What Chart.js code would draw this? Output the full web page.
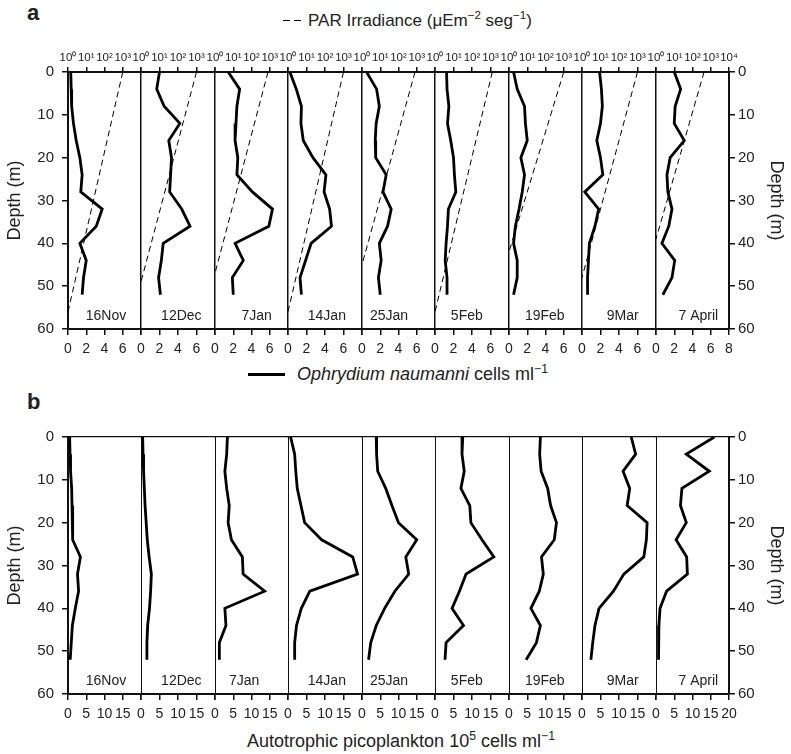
<!DOCTYPE html>
<html>
<head>
<meta charset="utf-8">
<script src="https://cdn.jsdelivr.net/npm/chart.js@4.4.0/dist/chart.umd.min.js"></script>
<style>
  body { margin: 0; background: #fff; font-family: "Liberation Sans", Arial, sans-serif; color: #222; }
  #wrap { position: relative; width: 791px; height: 754px; overflow: hidden; }
  #wrap canvas { position: absolute; }
  .lbl { position: absolute; white-space: nowrap; line-height: 1; }
  .lbl sup { font-size: 0.68em; vertical-align: 0; position: relative; top: -0.6em; }
  .dash { position: absolute; height: 1px; background: #000; }
</style>
</head>
<body>
<div id="wrap">
  <div class="lbl" style="left:27px; top:2px; font-size:22px; font-weight:bold;">a</div>
  <div class="dash" style="left:283px; top:20px; width:7px;"></div>
  <div class="dash" style="left:294px; top:20px; width:7px;"></div>
  <div class="lbl" style="left:308px; top:12px; font-size:17px;">PAR Irradiance (μEm<sup>−2</sup> seg<sup>−1</sup>)</div>

  <div class="dash" style="left:248px; top:373px; width:37px; height:3px;"></div>
  <div class="lbl" style="left:297px; top:365px; font-size:18px;"><i>Ophrydium naumanni</i> cells ml<sup>−1</sup></div>

  <div class="lbl" style="left:27px; top:391px; font-size:22px; font-weight:bold;">b</div>
  <div class="lbl" style="left:247px; top:732px; font-size:18px;">Autotrophic picoplankton 10<sup>5</sup> cells ml<sup>−1</sup></div>
</div>
<script>
// sampling depths (m)
const depths = [0, 4, 8, 12, 16, 20, 24, 28, 32, 36, 40, 44, 48, 52];
const dates = ["16Nov", "12Dec", "7Jan", "14Jan", "25Jan", "5Feb", "19Feb", "9Mar", "7 April"];

// Ophrydium naumanni, cells ml-1
const oph16Nov = [0.3, 0.35, 0.4, 0.6, 0.9, 1.3, 1.55, 1.4, 3.75, 3.1, 1.3, 2.0, 1.7, 1.55];
const oph12Dec = [2.0, 1.7, 2.5, 4.2, 3.0, 3.3, 3.2, 3.1, 4.4, 5.3, 2.4, 2.2, 1.9, 2.1];
const oph7Jan  = [1.45, 2.7, 2.4, 2.3, 2.2, 2.5, 2.4, 4.1, 6.3, 5.9, 2.2, 3.1, 1.9, 2.0];
const oph14Jan = [0.2, 0.9, 1.45, 1.4, 1.65, 2.7, 4.1, 3.9, 4.5, 4.7, 2.5, 1.9, 1.3, 1.45];
const oph25Jan = [0.5, 1.6, 1.9, 1.55, 1.45, 1.5, 2.65, 2.3, 3.2, 2.8, 1.9, 2.1, 1.8, 2.0];
const oph5Feb  = [1.25, 1.3, 1.5, 1.35, 1.7, 2.0, 2.1, 2.25, 1.45, 1.35, 1.2, 1.1, 1.3, 1.3];
const oph19Feb = [0.5, 0.9, 1.7, 1.8, 2.0, 1.3, 1.7, 1.45, 1.1, 0.7, 0.5, 0.9, 0.9, 0.5];
const oph9Mar  = [1.9, 2.1, 2.2, 2.0, 1.6, 2.0, 2.25, 0.3, 1.8, 1.4, 0.8, 0.7, 0.6, 0.6];
const oph7Apr  = [2.0, 2.7, 2.1, 2.0, 3.1, 1.55, 1.2, 1.3, 1.75, 1.4, 0.65, 2.05, 1.75, 0.75];
const ophSeries = [oph16Nov, oph12Dec, oph7Jan, oph14Jan, oph25Jan, oph5Feb, oph19Feb, oph9Mar, oph7Apr];

// PAR irradiance: surface value and depth where it falls to 1 uE m-2 s-1
const parSurface = [1000, 1000, 800, 1000, 800, 1250, 1000, 1000, 430];
const parDepthAt1 = [56, 49, 47, 56, 45, 56, 42, 48, 39];

// autotrophic picoplankton, 10^5 cells ml-1
const pico16Nov = [0.45, 0.55, 0.7, 1.0, 1.1, 1.2, 1.35, 3.4, 2.6, 2.9, 2.0, 1.2, 0.9, 0.6];
const pico12Dec = [0.45, 0.55, 0.7, 0.9, 1.1, 1.4, 1.7, 2.2, 2.8, 2.6, 2.3, 1.8, 1.6, 1.6];
const pico7Jan  = [3.4, 3.2, 2.7, 3.2, 3.9, 3.6, 4.5, 7.5, 7.7, 13.6, 2.7, 3.0, 1.2, 1.2];
const pico14Jan = [0.7, 1.8, 2.1, 2.5, 3.5, 4.5, 9.1, 17.5, 18.8, 5.9, 3.6, 2.3, 1.8, 1.8];
const pico25Jan = [3.9, 4.0, 4.3, 6.5, 8.2, 10.0, 15.0, 12.0, 12.8, 9.0, 6.2, 3.9, 2.4, 1.8];
const pico5Feb  = [7.5, 7.3, 7.9, 7.0, 9.4, 9.7, 12.7, 15.9, 8.4, 6.6, 4.6, 7.7, 3.0, 2.7];
const pico19Feb = [8.6, 8.4, 8.8, 10.6, 11.4, 13.0, 12.4, 8.9, 9.4, 8.3, 6.0, 8.6, 7.5, 4.7];
const pico9Mar  = [13.3, 14.5, 11.1, 12.9, 12.2, 17.6, 17.4, 16.7, 11.3, 8.5, 4.6, 3.5, 2.9, 2.4];
const pico7Apr  = [16.0, 8.3, 14.6, 7.1, 6.7, 8.3, 5.5, 8.4, 8.6, 2.9, 1.1, 0.8, 0.7, 0.7];
const picoSeries = [pico16Nov, pico12Dec, pico7Jan, pico14Jan, pico25Jan, pico5Feb, pico19Feb, pico9Mar, pico7Apr];

const depthTicks = [0, 10, 20, 30, 40, 50, 60];
const ophTicks = [0, 2, 4, 6, 8];
const picoTicks = [0, 5, 10, 15, 20];
const parTicks = [1, 10, 100, 1000, 10000];

const FONT = '"Liberation Sans", Arial, sans-serif';
Chart.defaults.font.family = FONT;
Chart.defaults.color = '#222';

const W = 791, plotLeft = 68, plotRight = 729, PAD = 14;
const edges = dates.map((d, i) => Math.round(plotLeft + i * (plotRight - plotLeft) / dates.length));
edges.push(plotRight);

const supDigits = ['\u2070', '\u00b9', '\u00b2', '\u00b3', '\u2074'];

const panels = [
    { top: 40, height: 319, topH: 32, bottomH: 30, xMax: 8, xTicks: ophTicks, series: ophSeries, par: true,
      divWidth: 1.5, topBorder: 2, labelPos: [0.52, 0.545, 0.57, 0.525, 0.37, 0.43, 0.49, 0.55, 0.58] },
    { top: 417, height: 307, topH: 20, bottomH: 30, xMax: 20, xTicks: picoTicks, series: picoSeries, par: false,
      divWidth: 1, topBorder: 1.3, labelPos: [0.52, 0.545, 0.40, 0.525, 0.37, 0.43, 0.49, 0.55, 0.58] }
];

const wrap = document.getElementById('wrap');

function makeSubChart(panel, i) {
    const first = i === 0;
    const last = i === dates.length - 1;
    const left = first ? 0 : edges[i] - PAD;
    const right = last ? W : edges[i + 1] + PAD;

    const canvas = document.createElement('canvas');
    canvas.width = right - left;
    canvas.height = panel.height;
    canvas.style.left = left + 'px';
    canvas.style.top = panel.top + 'px';
    wrap.appendChild(canvas);

    const datasets = [{
        data: depths.map((d, k) => ({ x: panel.series[i][k], y: d })),
        xAxisID: 'x', yAxisID: 'y',
        borderColor: '#000', borderWidth: 2.8,
        pointRadius: 0, fill: false, tension: 0
    }];
    if (panel.par) {
        datasets.push({
            data: [{ x: parSurface[i], y: 0 }, { x: 1, y: parDepthAt1[i] }],
            xAxisID: 'x2', yAxisID: 'y',
            borderColor: '#000', borderWidth: 1, borderDash: [6, 4],
            pointRadius: 0, fill: false, tension: 0
        });
    }

    const scales = {
        x: {
            type: 'linear', position: 'bottom', min: 0, max: panel.xMax,
            afterBuildTicks: s => { s.ticks = panel.xTicks.map(v => ({ value: v })); },
            afterFit: s => { s.height = panel.bottomH; },
            grid: { drawOnChartArea: false, drawTicks: true, tickLength: 6, color: '#111', lineWidth: 1.5 },
            border: { display: true, color: '#111', width: 2 },
            ticks: {
                autoSkip: false, maxRotation: 0, minRotation: 0, padding: 6,
                font: { size: 14 },
                callback: v => (v === panel.xMax && !last) ? '' : String(v)
            }
        },
        y: {
            type: 'linear', position: 'left', reverse: true, min: 0, max: 60,
            afterBuildTicks: s => { s.ticks = depthTicks.map(v => ({ value: v })); },
            afterFit: s => { s.width = first ? plotLeft : 0; },
            grid: { display: first, drawOnChartArea: false, tickLength: 6, color: '#111', lineWidth: 1.5 },
            border: { display: true, color: '#111', width: first ? 2 : panel.divWidth },
            ticks: { display: first, padding: 8, font: { size: 15 } },
            title: { display: first, text: 'Depth (m)', font: { size: 18 } }
        }
    };

    if (panel.par) {
        scales.x2 = {
            type: 'logarithmic', position: 'top', min: 1, max: 10000,
            afterBuildTicks: s => { s.ticks = parTicks.map(v => ({ value: v })); },
            afterFit: s => { s.height = panel.topH; },
            grid: { drawOnChartArea: false, drawTicks: true, tickLength: 5, color: '#111', lineWidth: 1.5 },
            border: { display: true, color: '#111', width: 2 },
            ticks: {
                autoSkip: false, maxRotation: 0, minRotation: 0, padding: 2,
                font: { size: 11.5 },
                callback: v => (v === 10000 && !last) ? '' : '10' + supDigits[Math.round(Math.log10(v))]
            }
        };
    } else {
        scales.x2 = {
            type: 'linear', position: 'top', min: 0, max: panel.xMax,
            afterFit: s => { s.height = panel.topH; },
            grid: { display: false },
            border: { display: true, color: '#111', width: panel.topBorder },
            ticks: { display: false }
        };
    }

    if (last) {
        scales.yR = {
            type: 'linear', position: 'right', reverse: true, min: 0, max: 60,
            afterBuildTicks: s => { s.ticks = depthTicks.map(v => ({ value: v })); },
            afterFit: s => { s.width = W - plotRight; },
            grid: { drawOnChartArea: false, tickLength: 6, color: '#111', lineWidth: 1.5 },
            border: { display: true, color: '#111', width: 2 },
            ticks: { padding: 3, font: { size: 15 } },
            title: { display: true, text: 'Depth (m)', font: { size: 18 } }
        };
    }

    new Chart(canvas, {
        type: 'line',
        data: { datasets },
        options: {
            responsive: false,
            animation: false,
            events: [],
            layout: { padding: { left: first ? 0 : PAD, right: last ? 0 : PAD, top: 0, bottom: 0 } },
            scales,
            plugins: { legend: { display: false }, tooltip: { enabled: false } }
        },
        plugins: [{
            id: 'dateLabel',
            afterDatasetsDraw(chart) {
                const { ctx, chartArea: a } = chart;
                ctx.save();
                ctx.font = '14px ' + FONT;
                ctx.fillStyle = '#222';
                ctx.textAlign = 'center';
                ctx.textBaseline = 'middle';
                ctx.fillText(dates[i], a.left + panel.labelPos[i] * (a.right - a.left), chart.scales.y.getPixelForValue(57));
                ctx.restore();
            }
        }]
    });
}

panels.forEach(panel => dates.forEach((d, i) => makeSubChart(panel, i)));
</script>
</body>
</html>
